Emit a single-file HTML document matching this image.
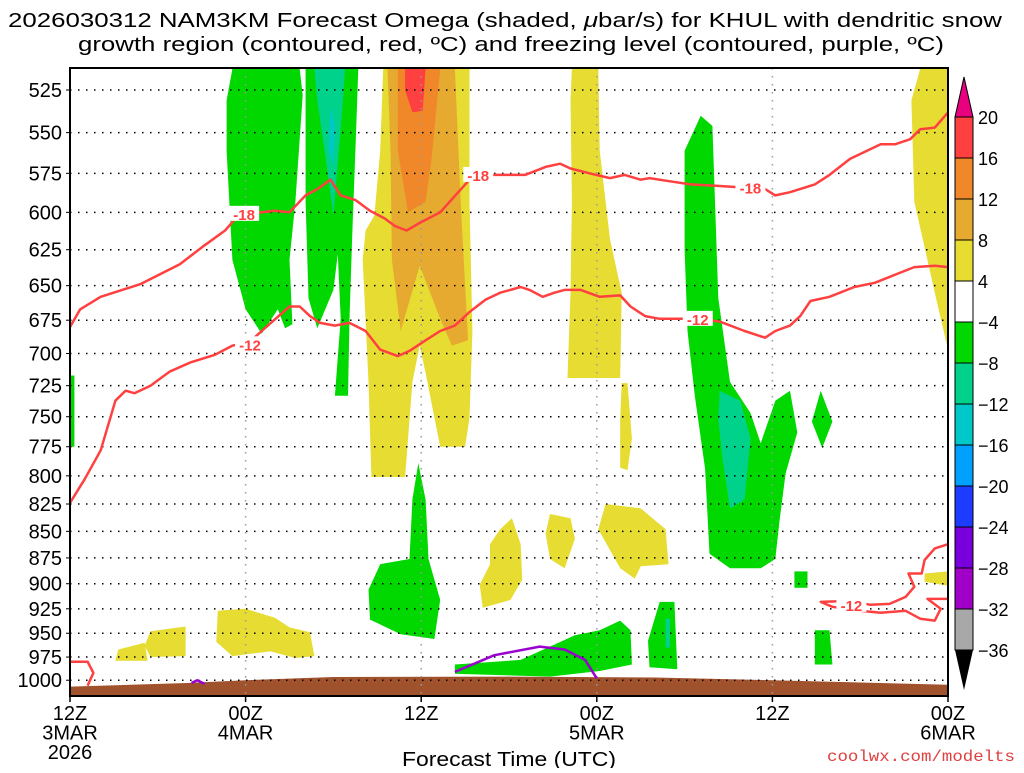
<!DOCTYPE html>
<html><head><meta charset="utf-8"><style>
body{margin:0;background:#fff;width:1024px;height:768px;overflow:hidden}
svg text{font-family:"Liberation Sans",sans-serif}
</style></head><body>
<svg id="chart" width="1024" height="768" viewBox="0 0 1024 768" xmlns="http://www.w3.org/2000/svg">
<text x="8" y="27" font-size="20" textLength="994" lengthAdjust="spacingAndGlyphs">2026030312 NAM3KM Forecast Omega (shaded, <tspan font-style="italic">μ</tspan>bar/s) for KHUL with dendritic snow</text>
<text x="78" y="51" font-size="20" textLength="866" lengthAdjust="spacingAndGlyphs">growth region (contoured, red, ºC) and freezing level (contoured, purple, ºC)</text>
<g id="shades"></g><g id="grid"></g><g id="lines"></g><g id="axes"></g><g id="cbar"></g>
<text x="402" y="766" font-size="20" textLength="214" lengthAdjust="spacingAndGlyphs">Forecast Time (UTC)</text>
<text x="827" y="761" font-size="16" fill="#e04040" textLength="188" lengthAdjust="spacingAndGlyphs" style="font-family:'Liberation Mono',monospace">coolwx.com/modelts</text>
</svg>
<script>
// ---- data ----
const pressureTicks=[525,550,575,600,625,650,675,700,725,750,775,800,825,850,875,900,925,950,975,1000];
const timeTicks=[0,12,24,36,48,60];
const timeTickLabels=[["12Z","3MAR","2026"],["00Z","4MAR"],["12Z"],["00Z","5MAR"],["12Z"],["00Z","6MAR"]];
const cbarLevels=[20,16,12,8,4,-4,-8,-12,-16,-20,-24,-28,-32,-36];
const cbarColors=["#ff4040","#f0882a","#e6aa30","#e6dc32","#ffffff","#00d800","#00d28c","#00c8c8","#00a0ff","#1e3cff","#7800dc","#a000c8","#a8a8a8"];
const groundHours=[0,8,12,18,30,40,48,60];
const groundP=[1007,1003,1000,996.5,996,997,1000,1005];
const shadeLevel=[];const shadeShape=[];
function S(level,pts){shadeLevel.push(level);shadeShape.push(pts);}
const isoM18=[[0,680],[0.7,667],[2.1,658],[4.8,649],[7.5,635],[9.2,622],[10.6,612],[11.5,602],[13.1,600],[14,599],[15,600],[16.1,589],[16.9,585],[17.8,579],[18.5,589],[19.5,592],[20.5,599],[21.5,604],[22.2,609],[23,612],[23.9,607],[25.3,600],[27.3,579],[28.4,576],[29.7,576],[31.1,576],[32.5,571],[33.5,569],[34.2,572],[35.5,575],[36.9,578],[37.9,576],[39,579],[39.6,578],[41,580],[42.4,582],[44.4,583],[46.1,584],[47.5,585],[48.2,589],[49.2,587],[50.9,582],[51.9,576],[53.3,566],[54.7,560],[55.4,557],[56.4,557],[57.4,554],[58.1,548],[59.1,547],[60,538]];
const isoM12=[[0,824],[1,803],[2.1,778],[3.1,737],[3.8,729],[4.4,731],[5.5,725],[6.8,714],[8.2,707],[9.9,701],[11.1,694],[12.2,692],[13.1,683],[15,665],[15.7,665],[16.4,672],[17.1,677],[18.1,679],[19.1,677],[20.2,683],[21.2,697],[22.4,702],[23.2,698],[24.3,690],[25.3,683],[26.3,679],[27.3,669],[28.4,660],[29.4,655],[30.8,651],[31.4,653],[32.3,658],[33.1,655],[33.8,653],[34.9,653],[36.2,658],[37.6,657],[38.3,665],[39.3,672],[40.3,674],[43.1,674],[44.4,676],[46.1,683],[47.5,688],[48.2,683],[49.2,679],[49.9,672],[50.6,661],[51.9,658],[53.6,651],[55,648],[56.7,641],[57.7,637],[59.1,636],[60,637]];
const isoM12b=[[0,980],[1.2,980],[1.6,992],[1.2,1006]];
const isoM12c=[[60,862],[59.1,866],[58.4,877],[58.2,890],[57.3,890],[57.7,903],[57.1,913],[56,920],[54.7,921],[53.3,917],[51.3,918],[52.1,923],[54,927],[55.4,929],[57.1,927],[58.1,935],[59.1,937],[59.5,925],[58.6,915],[60,915]];
const frz1=[[26.3,991],[29,973],[32.1,964],[33.8,967],[35.2,978],[36,998]];
const frz2=[[8.3,1003],[8.7,1000],[9.2,1004]];
const labels=[["-18",11.9,601],["-18",27.9,576],["-18",46.5,584],["-12",12.3,693],["-12",42.9,674],["-12",53.4,921]];
S(3,[[21.4,513],[27.3,513],[27.3,593],[27.5,683],[27.3,751],[27,775],[25.3,775],[24.3,715],[23.9,694],[23.4,722],[22.9,801],[20.6,801],[20.4,722],[20,632],[20.2,612],[20.8,602],[21.2,561]]);
S(3,[[34.3,513],[36.1,513],[36.2,561],[36.9,618],[37.7,655],[37.6,719],[34,719],[34.2,655],[34.3,593],[34.2,531]]);
S(3,[[58.1,513],[60,513],[60,697],[59.1,655],[57.7,593],[57.5,531]]);
S(3,[[37.7,723],[38.1,723],[38.4,768],[38.1,795],[37.6,793],[37.6,752]]);
S(3,[[36.6,825],[39,829],[40.7,848],[40.9,881],[39,883],[38.6,895],[37.6,885],[36.1,848]]);
S(3,[[32.8,834],[34.2,838],[34.5,857],[33.8,885],[32.8,876],[32.5,852]]);
S(3,[[28.7,862],[29.4,848],[30.2,838],[30.8,862],[30.9,896],[30.1,916],[28.2,924],[28,901],[28.7,881]]);
S(3,[[58.4,890],[60,888],[60,902],[58.4,898]]);
S(3,[[3.3,967],[5.1,960],[5.3,979],[3.1,979]]);
S(3,[[5.5,948],[7.9,943],[7.9,974],[5.5,975],[5.1,963]]);
S(3,[[10.1,927],[12,925],[14,934],[15,944],[16.4,949],[16.7,974],[15.4,976],[13.7,969],[11.1,974],[10,959]]);
S(2,[[21.7,513],[26.3,513],[26.7,593],[27.2,690],[26.1,694],[25.3,674],[23.9,636],[22.6,683],[22,632],[21.9,561]]);
S(1,[[22.4,513],[25.3,513],[24.7,567],[24.3,593],[23.1,600],[22.4,561]]);
S(0,[[22.9,513],[24.3,513],[24.1,537],[23.4,538],[22.9,525]]);
S(5,[[11.1,513],[15.7,513],[15.9,528],[15.4,593],[15,632],[15.2,678],[14.7,681],[14.2,667],[13.1,685],[12,667],[11.1,632],[10.7,561],[10.7,531]]);
S(5,[[16.1,513],[19.7,513],[19.5,561],[19.3,612],[19.1,674],[19,733],[18.1,733],[18.5,674],[18.3,628],[18,653],[16.9,681],[16.3,659],[16.1,593],[16.1,543]]);
S(5,[[23.8,789],[24.3,821],[24.5,876],[25.3,916],[24.9,956],[22.6,951],[20.5,936],[20.4,906],[21.2,881],[23.2,876],[23.4,821]]);
S(5,[[26.3,983],[30.8,978],[34.5,952],[36.2,947],[37.6,937],[38.3,947],[38.4,983],[36.2,990],[32.8,996],[26.3,993]]);
S(5,[[40.3,918],[41.3,918],[41.5,988],[39.6,986],[39.5,958]]);
S(5,[[50.9,947],[51.9,947],[52.1,983],[50.9,983]]);
S(5,[[49.5,888],[50.4,888],[50.4,904],[49.5,904]]);
S(5,[[51.3,729],[52.1,754],[51.4,776],[50.7,754]]);
S(5,[[43.1,540],[43.9,546],[44.3,659],[45.1,722],[46.5,747],[47.2,772],[48.2,737],[49.2,729],[49.7,763],[48.9,798],[48.5,839],[48.2,876],[47.2,885],[45.1,885],[43.7,871],[43.4,794],[42.7,733],[42.2,683],[42,625],[42,561]]);
S(5,[[0,717],[0.3,717],[0.3,775],[0,775]]);
S(6,[[16.7,513],[18.8,513],[18.5,548],[18,602],[17.4,561],[16.9,531]]);
S(6,[[44.4,729],[45.8,737],[46.5,768],[46.1,821],[45.1,829],[44.6,786],[44.3,752]]);
S(6,[[40.7,935],[41,935],[41,965],[40.7,965]]);
S(7,[[17.8,535],[18.1,545],[18,570],[17.7,560]]);
// ---- drawing ----
const PL=70,PR=948,PT=68,PB=696;
const xs=h=>PL+(PR-PL)*h/60;
const ys=p=>90+916*Math.log(p/525);
const NS="http://www.w3.org/2000/svg";
function mk(tag,attrs,parent){const e=document.createElementNS(NS,tag);for(const k in attrs)e.setAttribute(k,attrs[k]);parent.appendChild(e);return e;}
const gS=document.getElementById('shades'),gG=document.getElementById('grid'),gL=document.getElementById('lines'),gA=document.getElementById('axes'),gC=document.getElementById('cbar');
const clipEl=mk('clipPath',{id:'pc'},mk('defs',{},document.getElementById('chart')));
mk('rect',{x:PL,y:PT,width:PR-PL,height:PB-PT},clipEl);
gS.setAttribute('clip-path','url(#pc)');gL.setAttribute('clip-path','url(#pc)');
const pts=a=>a.map(q=>xs(q[0]).toFixed(1)+','+ys(q[1]).toFixed(1)).join(' ');
shadeShape.forEach((s,i)=>{
  const e=mk('polygon',{points:pts(s),fill:cbarColors[shadeLevel[i]]},gS);
  
  
});
const gp=groundHours.map((h,i)=>[h,groundP[i]]);
const ground=mk('polygon',{points:pts(gp)+' '+xs(60)+','+PB+' '+xs(0)+','+PB,fill:'#a0522d'},gS);


pressureTicks.forEach(p=>{
  const l=mk('line',{x1:PL,x2:PR,y1:ys(p),y2:ys(p),stroke:'#000','stroke-width':1.5,'stroke-dasharray':'1.5 6.5'},gG);
  
  
  const t=mk('text',{x:62,y:ys(p)+7,'font-size':20,'text-anchor':'end'},gA);t.textContent=p;
  
  
  mk('line',{x1:PL-4,x2:PL,y1:ys(p),y2:ys(p),stroke:'#000','stroke-width':1},gA);
});
timeTicks.forEach((h,i)=>{
  if(h>0&&h<60){const l=mk('line',{x1:xs(h),x2:xs(h),y1:PT,y2:PB,stroke:'#999','stroke-width':1.5,'stroke-dasharray':'1.5 6.5'},gG);
  
  }
  mk('line',{x1:xs(h),x2:xs(h),y1:PB,y2:PB+6,stroke:'#000','stroke-width':1.5},gA);
  timeTickLabels[i].forEach((s,j)=>{const t=mk('text',{x:xs(h),y:PB+24+j*19.5,'font-size':20,'text-anchor':'middle'},gA);t.textContent=s;
  
  });
});
function drawLine(a,col,name){const e=mk('polyline',{points:pts(a),fill:'none',stroke:col,'stroke-width':2.5,'stroke-linejoin':'round'},gL);
  
  }
drawLine(isoM18,'#ff4040','isotherm-minus18');drawLine(isoM12,'#ff4040','isotherm-minus12');
drawLine(isoM12b,'#ff4040','isotherm-minus12');drawLine(isoM12c,'#ff4040','isotherm-minus12');
drawLine(frz1,'#9a00d0','freezing-level');drawLine(frz2,'#9a00d0','freezing-level');
labels.forEach(l=>{const x=xs(l[1]),y=ys(l[2]);
  mk('rect',{x:x-15,y:y-8,width:30,height:15,fill:'#fff'},gL);
  const t=mk('text',{x:x,y:y+6,'font-size':15,'font-weight':'bold',fill:'#ff4040','text-anchor':'middle'},gL);t.textContent=l[0];
  
  });
const fr=mk('rect',{x:PL,y:PT,width:PR-PL,height:PB-PT,fill:'none',stroke:'#000','stroke-width':2},gA);


const cx=955,cw=18,c0=117,cstep=41;
const upArrow=mk('polygon',{points:`${cx},${c0} ${cx+cw},${c0} ${cx+cw/2},${c0-40}`,fill:'#e8007f',stroke:'#000'},gC);


cbarColors.forEach((c,i)=>{const r=mk('rect',{x:cx,y:c0+i*cstep,width:cw,height:cstep,fill:c,stroke:'#000','stroke-width':1},gC);
  
  });
const cbot=c0+cbarColors.length*cstep;
const downArrow=mk('polygon',{points:`${cx},${cbot} ${cx+cw},${cbot} ${cx+cw/2},${cbot+40}`,fill:'#000'},gC);


cbarLevels.forEach((v,i)=>{const t=mk('text',{x:978,y:c0+i*cstep+7,'font-size':18},gC);t.textContent=v<0?'\u2212'+(-v):v;
  
  });
</script>
</body></html>
